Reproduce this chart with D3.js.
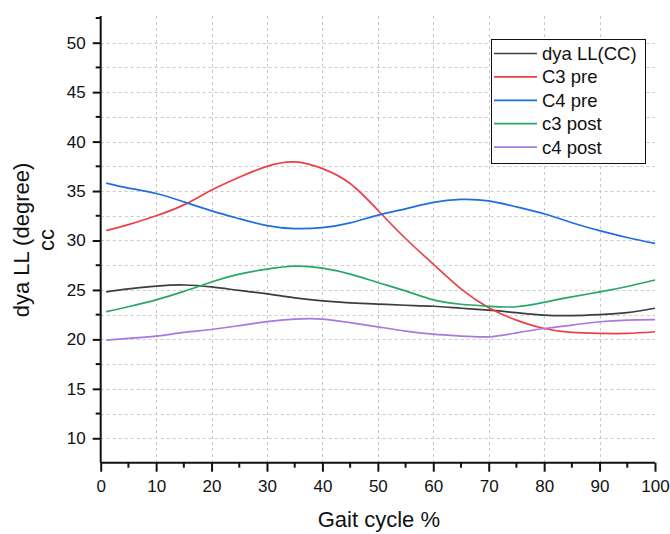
<!DOCTYPE html>
<html>
<head>
<meta charset="utf-8">
<script src="https://cdn.jsdelivr.net/npm/d3@7"></script>
<style>
  body { margin: 0; background: #fff; }
  text { font-family: "Liberation Sans", Arial, sans-serif; fill: #111; }
</style>
</head>
<body>
<div id="chart"></div>
<script>
// gait cycle sample points (%)
const gait = [1, 5, 10, 15, 20, 25, 30, 35, 40, 45, 50, 55, 60, 65, 70, 75, 80, 85, 90, 95, 100];

const dyaLL = [24.8, 25.1, 25.38, 25.5, 25.3, 24.95, 24.6, 24.2, 23.9, 23.7, 23.57, 23.45, 23.35, 23.15, 22.95, 22.7, 22.45, 22.4, 22.5, 22.7, 23.15];
const c3pre = [31.0, 31.6, 32.5, 33.6, 35.1, 36.4, 37.5, 37.95, 37.27, 35.76, 33.06, 30.2, 27.6, 25.1, 23.2, 21.95, 21.1, 20.7, 20.6, 20.6, 20.77];
const c4pre = [35.8, 35.3, 34.75, 33.9, 33.0, 32.2, 31.5, 31.2, 31.3, 31.78, 32.56, 33.2, 33.85, 34.15, 34.0, 33.4, 32.7, 31.8, 31.0, 30.3, 29.7];
const c3post = [22.8, 23.3, 24.0, 24.85, 25.8, 26.6, 27.1, 27.4, 27.2, 26.6, 25.75, 24.9, 24.0, 23.55, 23.35, 23.3, 23.75, 24.3, 24.8, 25.35, 26.0];
const c4post = [19.93, 20.1, 20.33, 20.7, 21.0, 21.4, 21.8, 22.05, 22.05, 21.7, 21.27, 20.84, 20.53, 20.33, 20.26, 20.65, 21.1, 21.45, 21.78, 21.95, 22.0];

const seriesNames = ["dya LL(CC)", "C3 pre", "C4 pre", "c3 post", "c4 post"];
const seriesValues = [dyaLL, c3pre, c4pre, c3post, c4post];
const colors = ["#3d3d3d", "#ee3f46", "#1d6fe0", "#27a768", "#a978e0"];

const xTicks = d3.range(0, 101, 10);
const yTicks = d3.range(10, 51, 5);

const w = 670, h = 534;

const svg = d3.select("#chart")
  .append("svg")
  .attr("width", w)
  .attr("height", h);

const xScale = d3.scaleLinear().domain([0, 100]).range([100.7, 655]);
const yScale = d3.scaleLinear().domain([7.53, 52.7]).range([462.7, 16]);

const x0 = xScale(0), x1 = xScale(100);
const yBottom = yScale.range()[0], yTop = yScale.range()[1];

// dashed grid
const grid = svg.append("g")
  .attr("stroke", "#c9c9c9")
  .attr("stroke-width", 1)
  .attr("stroke-dasharray", "3,3");

grid.selectAll(".hgrid")
  .data(d3.range(10, 51, 2.5))
  .enter()
  .append("line")
  .attr("x1", x0).attr("x2", x1)
  .attr("y1", d => Math.round(yScale(d)) + 0.5)
  .attr("y2", d => Math.round(yScale(d)) + 0.5);

grid.selectAll(".vgrid")
  .data(d3.range(10, 100, 10))
  .enter()
  .append("line")
  .attr("y1", yTop).attr("y2", yBottom)
  .attr("x1", d => Math.round(xScale(d)) + 0.5)
  .attr("x2", d => Math.round(xScale(d)) + 0.5);

// lines
const line = d3.line()
  .x((d, i) => xScale(gait[i]))
  .y(d => yScale(d))
  .curve(d3.curveNatural);

svg.selectAll(".series")
  .data(seriesValues)
  .enter()
  .append("path")
  .attr("fill", "none")
  .attr("stroke", (d, i) => colors[i])
  .attr("stroke-width", 1.7)
  .attr("d", line);

// axes
const xAxis = d3.axisBottom(xScale).tickValues(xTicks).tickSize(9).tickPadding(8).tickFormat(d3.format("d"));
const gx = svg.append("g")
  .attr("id", "x-axis")
  .attr("transform", "translate(0," + yBottom + ")")
  .call(xAxis);

const yAxis = d3.axisLeft(yScale).tickValues(yTicks).tickSize(8).tickPadding(7).tickFormat(d3.format("d"));
const gy = svg.append("g")
  .attr("id", "y-axis")
  .attr("transform", "translate(" + x0 + ",0)")
  .call(yAxis);

// minor ticks
gx.selectAll(".minor")
  .data(d3.range(5, 100, 10))
  .enter()
  .append("line")
  .attr("x1", d => xScale(d)).attr("x2", d => xScale(d))
  .attr("y1", 0).attr("y2", 5)
  .attr("stroke", "#111").attr("stroke-width", 2);

gy.selectAll(".minor")
  .data(d3.range(12.5, 53, 5))
  .enter()
  .append("line")
  .attr("y1", d => yScale(d)).attr("y2", d => yScale(d))
  .attr("x1", 0).attr("x2", -5)
  .attr("stroke", "#111").attr("stroke-width", 2);

[gx, gy].forEach(g => {
  g.select(".domain").attr("stroke", "#111").attr("stroke-width", 2);
  g.selectAll(".tick line").attr("stroke", "#111").attr("stroke-width", 2);
  g.selectAll(".tick text")
    .attr("fill", "#111")
    .style("font-size", "17px")
    .style("font-family", "'Liberation Sans', Arial, sans-serif");
});
gx.select(".domain").attr("d", "M" + x0 + ",0H" + x1);
gy.select(".domain").attr("d", "M0," + yBottom + "V" + yTop);

// axis titles
svg.append("text")
  .attr("x", (x0 + x1) / 2 + 1)
  .attr("y", 527)
  .attr("text-anchor", "middle")
  .style("font-size", "22px")
  .text("Gait cycle %");

const yTitle = svg.append("text")
  .attr("transform", "translate(29,240) rotate(-90)")
  .attr("text-anchor", "middle")
  .style("font-size", "22px");
yTitle.append("tspan").attr("x", 0).attr("y", 0).text("dya LL (degree)");
yTitle.append("tspan").attr("x", 0).attr("y", 25).text("cc");

// legend
const legend = svg.append("g").attr("transform", "translate(491,39)");
legend.append("rect")
  .attr("x", 0.5).attr("y", 0.5)
  .attr("width", 154).attr("height", 124)
  .attr("fill", "#fff")
  .attr("stroke", "#111")
  .attr("stroke-width", 1);

const rows = legend.selectAll(".row")
  .data(seriesNames)
  .enter()
  .append("g")
  .attr("transform", (d, i) => "translate(0," + (14.5 + i * 23.4) + ")");

rows.append("line")
  .attr("x1", 3).attr("x2", 46)
  .attr("y1", 0).attr("y2", 0)
  .attr("stroke", (d, i) => colors[i])
  .attr("stroke-width", 1.7);

rows.append("text")
  .attr("x", 51)
  .attr("y", 6.5)
  .style("font-size", "18.5px")
  .text(d => d);
</script>
</body>
</html>
